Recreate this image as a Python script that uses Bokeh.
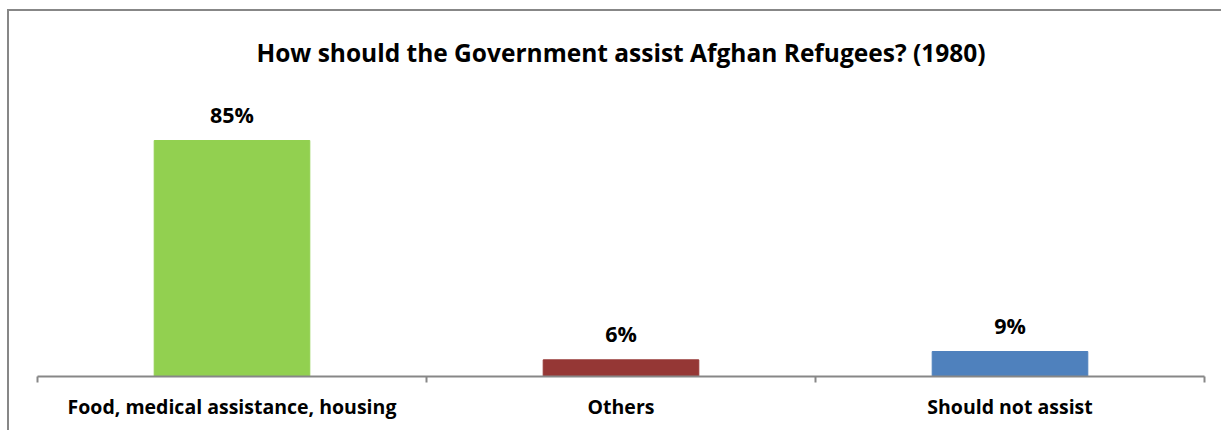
from bokeh.plotting import figure
from bokeh.models import (ColumnDataSource, LabelSet, Title, Range1d,
                          LinearAxis, FixedTicker)
from bokeh.core.properties import value
from bokeh.embed import file_html
from bokeh.resources import INLINE

categories = ["Food, medical assistance, housing", "Others", "Should not assist"]
values = [85, 6, 9]
labels = ["85%", "6%", "9%"]
colors = ["#92D050", "#953735", "#4F81BD"]

FONT = "Open Sans"
GRAY = "#878787"
OX, OY = 9, 11          # canvas origin inside the page (after margin + border)
W, H = 1223 - OX, 432 - OY
frame_top = 90 - OY
frame_bottom = 376 - OY
px_per_unit = 236 / 85.0
y_end = (frame_bottom - frame_top) / px_per_unit

centers = [i + 0.5 for i in range(len(categories))]
boundaries = list(range(len(categories) + 1))

src = ColumnDataSource(dict(x=centers, cat=categories, val=values, lab=labels, col=colors))

p = figure(width=W, height=H, x_range=Range1d(0, len(categories)), y_range=Range1d(0, y_end),
           output_backend="svg", toolbar_location=None,
           x_axis_location=None, y_axis_location=None,
           min_border_left=37 - OX, min_border_right=1223 - 1204, min_border_top=frame_top,
           min_border_bottom=H - frame_bottom)
p.margin = (OY - 2, 0, 0, OX - 2)
p.styles = {"border-top": f"2px solid {GRAY}", "border-left": f"2px solid {GRAY}"}

p.vbar(x="x", top="val", width=0.40, color="col", source=src)

p.add_layout(LabelSet(x="x", y="val", text="lab", source=src, y_offset=26,
                      text_align="center", text_baseline="middle",
                      text_font=value(FONT), text_font_style="bold", text_font_size="21.5px",
                      text_color="#000000"))

p.xgrid.visible = False
p.ygrid.visible = False
p.outline_line_color = None

# axis line with ticks at the category boundaries
tick_axis = LinearAxis(ticker=FixedTicker(ticks=boundaries),
                       axis_line_color=GRAY, axis_line_width=2,
                       major_tick_line_color=GRAY, major_tick_line_width=2,
                       major_tick_in=0, major_tick_out=6,
                       minor_tick_line_color=None,
                       major_label_overrides={b: "" for b in boundaries},
                       major_label_standoff=0, major_label_text_font_size="1px")
p.add_layout(tick_axis, "below")

# category labels at the category centres
label_axis = LinearAxis(ticker=FixedTicker(ticks=centers),
                        axis_line_color=None, major_tick_line_color=None,
                        minor_tick_line_color=None,
                        major_label_overrides={c: t for c, t in zip(centers, categories)},
                        major_label_text_font=FONT, major_label_text_font_style="bold",
                        major_label_text_font_size="19.5px", major_label_text_color="#000000",
                        major_label_standoff=4)
p.add_layout(label_axis, "below")

p.add_layout(Title(text="How should the Government assist Afghan Refugees? (1980)",
                   text_font=FONT, text_font_style="bold", text_font_size="24.5px",
                   align="center", text_color="#000000", standoff=43), "above")

open("out.html", "w").write(file_html(p, INLINE))
